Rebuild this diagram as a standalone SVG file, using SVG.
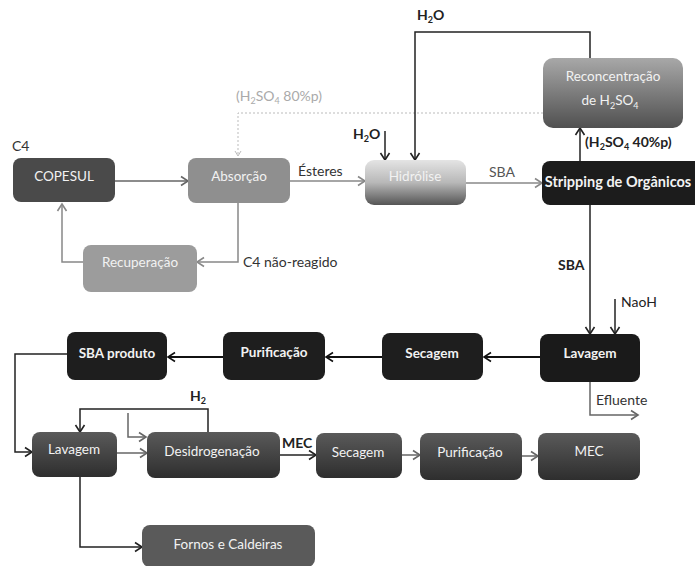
<svg xmlns="http://www.w3.org/2000/svg" width="695" height="566" viewBox="0 0 695 566">
<defs>
<marker id="ah" markerUnits="userSpaceOnUse" markerWidth="12" markerHeight="12" refX="9" refY="6" orient="auto">
<path d="M2,1.5 L9,6 L2,10.5" fill="none" stroke="context-stroke" stroke-width="1.6"/>
</marker>
<marker id="ahs" markerUnits="userSpaceOnUse" markerWidth="10" markerHeight="10" refX="7" refY="5" orient="auto">
<path d="M2,2 L7,5 L2,8" fill="none" stroke="#bbb" stroke-width="1"/>
</marker>
<linearGradient id="gHid" x1="0" y1="0" x2="0" y2="1">
<stop offset="0" stop-color="#e4e4e4"/><stop offset="0.5" stop-color="#b8b8b8"/><stop offset="1" stop-color="#555"/>
</linearGradient>
<linearGradient id="gRec" x1="0" y1="0" x2="0" y2="1">
<stop offset="0" stop-color="#a8a8a8"/><stop offset="1" stop-color="#505050"/>
</linearGradient>
<linearGradient id="gBot" x1="0" y1="0" x2="0" y2="1">
<stop offset="0" stop-color="#5a5a5a"/><stop offset="1" stop-color="#2e2e2e"/>
</linearGradient>
</defs>
<style>
text{font-family:Lato,"Liberation Sans",sans-serif;font-size:14px}
.nt{fill:#f2f2f2;text-anchor:middle;font-size:13.5px}
.b{font-weight:bold}
.lbl{fill:#333}
.c{fill:none;stroke-width:1.5;marker-end:url(#ah)}
.k{stroke:#222}
.k2{stroke:#111;stroke-width:2.2}
.g{stroke:#666}
.lg{stroke:#888}
.sub{font-size:9px}
</style>
<rect width="695" height="566" fill="#fff"/>
<g id="connectors">
<path class="c g" d="M115,181 H188"/>
<path class="c lg" d="M290,181 H365"/>
<path class="c lg" d="M466,183 H542"/>
<path class="c lg" d="M238,203 V262 H197"/>
<path class="c lg" d="M83,262 H62 V204"/>
<path d="M543,113 H238 V156" fill="none" stroke="#bbb" stroke-width="1" stroke-dasharray="2,2" marker-end="url(#ahs)"/>
<path class="c k" d="M385,131 V160"/>
<path class="c k" d="M590,58 V32 H415 V160"/>
<path class="c k" d="M580,161 V128"/>
<path class="c k" d="M590,205 V334"/>
<path class="c k" d="M615,299 V334"/>
<path class="c g" d="M590,382 V415 H638"/>
<path class="c k2" d="M540,357 H484"/>
<path class="c k2" d="M382,357 H326"/>
<path class="c k2" d="M223,357 H168"/>
<path class="c k" d="M67,354 H15 V452 H32"/>
<path class="c g" d="M117,453 H147"/>
<path class="c k" d="M280,455 H316"/>
<path class="c g" d="M402,455 H420"/>
<path class="c g" d="M522,456 H538"/>
<path class="c k" d="M208,432 V409 H80 V432"/>
<path class="c g" d="M128,413 V437 H146"/>
<path class="c k" d="M80,477 V547 H142"/>
</g>
<g id="labels">
<text x="12" y="151" class="lbl">C4</text>
<text x="236" y="101" fill="#aaa">(H<tspan class="sub" dy="3">2</tspan><tspan dy="-3">SO</tspan><tspan class="sub" dy="3">4</tspan><tspan dy="-3"> 80%p)</tspan></text>
<text x="298" y="176" class="lbl">Ésteres</text>
<text x="489" y="177" fill="#555">SBA</text>
<text x="353" y="139" class="b" fill="#222">H<tspan class="sub" dy="3">2</tspan><tspan dy="-3">O</tspan></text>
<text x="417" y="20" class="b" fill="#222">H<tspan class="sub" dy="3">2</tspan><tspan dy="-3">O</tspan></text>
<text x="585" y="147" class="b" fill="#222">(H<tspan class="sub" dy="3">2</tspan><tspan dy="-3">SO</tspan><tspan class="sub" dy="3">4</tspan><tspan dy="-3"> 40%p)</tspan></text>
<text x="558" y="270" class="b" fill="#222">SBA</text>
<text x="621" y="307" fill="#222">NaoH</text>
<text x="596" y="405" fill="#333">Efluente</text>
<text x="243" y="267" class="lbl">C4 não-reagido</text>
<text x="190" y="401" class="b" fill="#222">H<tspan class="sub" dy="3">2</tspan></text>
<text x="282" y="448" class="b" fill="#222">MEC</text>
</g>
<g id="n-copesul"><rect x="13" y="158" width="102" height="44" rx="8" fill="#4a4a4a"/><text x="64" y="181" class="nt">COPESUL</text></g>
<g id="n-absorcao"><rect x="188" y="158" width="102" height="45" rx="8" fill="#8f8f8f"/><text x="239" y="181" class="nt">Absorção</text></g>
<g id="n-recuperacao"><rect x="83" y="245" width="114" height="47" rx="8" fill="#9c9c9c"/><text x="140" y="267" class="nt">Recuperação</text></g>
<g id="n-hidrolise"><rect x="365" y="160" width="101" height="45" rx="9" fill="url(#gHid)"/><text x="415" y="181" class="nt">Hidrólise</text></g>
<g id="n-stripping"><rect x="542" y="161" width="160" height="44" rx="8" fill="#1c1c1c"/><text x="618" y="187" class="nt b" style="font-size:14.5px">Stripping de Orgânicos</text></g>
<g id="n-reconcentracao"><rect x="543" y="58" width="140" height="70" rx="10" fill="url(#gRec)"/><text x="613" y="81" class="nt">Reconcentração</text><text x="610" y="105" class="nt">de H<tspan class="sub" dy="4">2</tspan><tspan dy="-4">SO</tspan><tspan class="sub" dy="4">4</tspan></text></g>
<g id="n-sba-produto"><rect x="67" y="332" width="100" height="48" rx="8" fill="#1e1e1e"/><text x="117" y="358" class="nt b">SBA produto</text></g>
<g id="n-purificacao1"><rect x="223" y="332" width="102" height="48" rx="8" fill="#1e1e1e"/><text x="274" y="357" class="nt b">Purificação</text></g>
<g id="n-secagem1"><rect x="382" y="333" width="101" height="47" rx="8" fill="#1e1e1e"/><text x="432" y="358" class="nt b">Secagem</text></g>
<g id="n-lavagem1"><rect x="540" y="334" width="100" height="48" rx="8" fill="#1a1a1a"/><text x="590" y="358" class="nt b">Lavagem</text></g>
<g id="n-lavagem2"><rect x="32" y="432" width="85" height="45" rx="8" fill="url(#gBot)"/><text x="74" y="454" class="nt">Lavagem</text></g>
<g id="n-desidrogenacao"><rect x="147" y="432" width="133" height="46" rx="8" fill="url(#gBot)"/><text x="212" y="456" class="nt">Desidrogenação</text></g>
<g id="n-secagem2"><rect x="316" y="433" width="86" height="45" rx="8" fill="url(#gBot)"/><text x="358" y="457" class="nt">Secagem</text></g>
<g id="n-purificacao2"><rect x="420" y="433" width="102" height="47" rx="8" fill="url(#gBot)"/><text x="470" y="457" class="nt">Purificação</text></g>
<g id="n-mec"><rect x="538" y="433" width="102" height="47" rx="8" fill="url(#gBot)"/><text x="589" y="456" class="nt">MEC</text></g>
<g id="n-fornos"><rect x="142" y="525" width="173" height="42" rx="8" fill="#5a5a5a"/><text x="228" y="549" class="nt">Fornos e Caldeiras</text></g>
</svg>
